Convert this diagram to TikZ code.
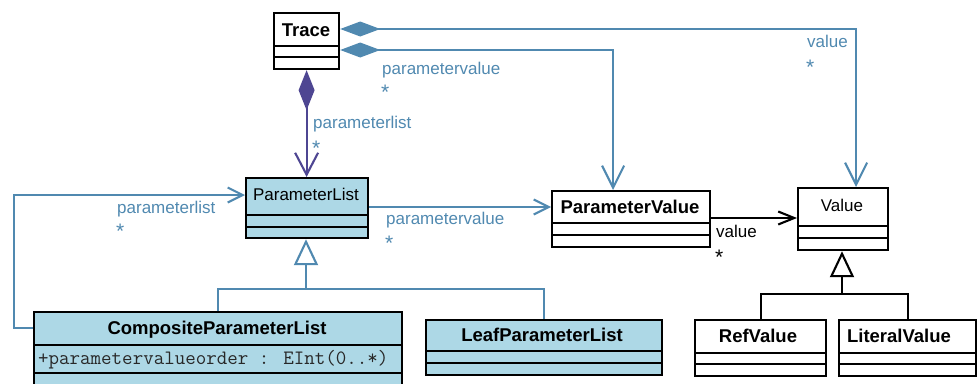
\documentclass[tikz,border=0pt]{standalone}
\usepackage{fontspec}
\setmainfont{Liberation Sans}
\usetikzlibrary{arrows.meta}
\definecolor{steel}{RGB}{80,137,176}
\definecolor{purp}{RGB}{78,70,146}
\definecolor{lblue}{RGB}{173,216,230}
\definecolor{attrgray}{RGB}{40,40,40}
\tikzset{
  cls/.style={draw=black, line width=2.2pt, inner sep=0pt, anchor=north west},
  sepline/.style={draw=black, line width=2.2pt},
  nm/.style={font=\fontsize{18.5}{20}\selectfont\bfseries, anchor=base, inner sep=0pt},
  nmr/.style={font=\fontsize{17}{20}\selectfont, anchor=base, inner sep=0pt},
  lbl/.style={font=\fontsize{17}{20}\selectfont, text=steel, anchor=base west, inner sep=0pt},
  mult/.style={lbl, font=\fontsize{21}{22}\selectfont},
  blbl/.style={lbl, text=black},
  bmult/.style={mult, text=black},
  assoc/.style={draw=steel, line width=2.1pt},
  bassoc/.style={draw=black, line width=2.1pt},
  passoc/.style={draw=purp, line width=2.1pt},
  gentip/.style={-{Triangle[open, length=26pt, width=24pt, fill=white]}},
}
\begin{document}
\begin{tikzpicture}[x=1pt, y=-1pt]
\path[use as bounding box] (0,0) rectangle (979,383);
\clip (0,0) rectangle (979,383);

% Trace
\node[cls, fill=white, minimum width=65pt, minimum height=56pt] (trace) at (273,12) {};
\draw[sepline] (273,46) -- (338,46);
\draw[sepline] (273,57) -- (338,57);
\node[nm] (traceT) at (306,36) {Trace};

% ParameterList
\node[cls, fill=lblue, minimum width=122pt, minimum height=60pt] (pl) at (245,177) {};
\draw[sepline] (245,215) -- (367,215);
\draw[sepline] (245,227) -- (367,227);
\node[nmr] (plT) at (306,200) {ParameterList};

% ParameterValue
\node[cls, fill=white, minimum width=158pt, minimum height=56pt] (pv) at (551,190) {};
\draw[sepline] (551,223) -- (709,223);
\draw[sepline] (551,235) -- (709,235);
\node[nm] (pvT) at (630,213) {ParameterValue};

% Value
\node[cls, fill=white, minimum width=90pt, minimum height=62pt] (value) at (797,187) {};
\draw[sepline] (797,226) -- (887,226);
\draw[sepline] (797,238) -- (887,238);
\node[nmr] (valueT) at (842,211) {Value};

% RefValue
\node[cls, fill=white, minimum width=131pt, minimum height=56pt] (ref) at (694,319) {};
\draw[sepline] (694,353) -- (825,353);
\draw[sepline] (694,364) -- (825,364);
\node[nm] (refT) at (758,342) {RefValue};

% LiteralValue
\node[cls, fill=white, minimum width=137pt, minimum height=56pt] (lit) at (838,319) {};
\draw[sepline] (838,353) -- (975,353);
\draw[sepline] (838,364) -- (975,364);
\node[nm] (litT) at (899,342) {LiteralValue};

% CompositeParameterList
\node[cls, fill=lblue, minimum width=368pt, minimum height=85pt] (comp) at (33,311) {};
\draw[sepline] (33,345) -- (401,345);
\draw[sepline] (33,373) -- (401,373);
\node[nm] (compT) at (217,334) {CompositeParameterList};
\node[font=\fontsize{20.4}{20}\selectfont\ttfamily, text=attrgray, anchor=base west, inner sep=0pt] (compA) at (38,364) {+parametervalueorder : EInt(0..*)};

% LeafParameterList
\node[cls, fill=lblue, minimum width=236pt, minimum height=55pt] (leaf) at (425,319) {};
\draw[sepline] (425,351) -- (661,351);
\draw[sepline] (425,363) -- (661,363);
\node[nm] (leafT) at (542,341) {LeafParameterList};

% Trace -> Value (composition)
\draw[assoc, {Diamond[length=40pt,width=15pt]}-{Straight Barb[length=22pt,width=22pt]}]
  ([yshift=-17pt]trace.north east) -| ([xshift=13pt]value.north);
\node[lbl] (lB1) at (807,47) {value};
\node[mult] (lB2) at (806,74) {*};

% Trace -> ParameterValue (composition)
\draw[assoc, {Diamond[length=40pt,width=15pt]}-{Straight Barb[length=22pt,width=22pt]}]
  ([yshift=-38pt]trace.north east) -| ([xshift=-18pt]pv.north);
\node[lbl] (lA1) at (382,74) {parametervalue};
\node[mult] (lA2) at (381,99) {*};

% Trace -> ParameterList (composition)
\draw[passoc, {Diamond[length=40pt,width=16pt]}-{Straight Barb[length=22pt,width=23pt]}]
  (trace.south) -- (trace.south |- pl.north);
\node[lbl] (lC1) at (313,128) {parameterlist};
\node[mult] (lC2) at (312,155) {*};

% ParameterList -> ParameterValue
\coordinate (a1) at ([yshift=-30pt]pl.north east);
\draw[assoc, -{Straight Barb[length=15pt,width=15pt]}] (a1) -- (a1 -| pv.west);
\node[lbl] (lE1) at (386,224) {parametervalue};
\node[mult] (lE2) at (385,250) {*};

% ParameterValue -> Value
\coordinate (a2) at ([yshift=-28pt]pv.north east);
\draw[bassoc, -{Straight Barb[length=16pt,width=13pt]}] (a2) -- (a2 -| value.west);
\node[blbl] (lF1) at (716,237) {value};
\node[bmult] (lF2) at (715,264) {*};

% CompositeParameterList -> ParameterList (self loop)
\coordinate (a3) at ([yshift=-17pt]comp.north west);
\coordinate (a4) at ([yshift=-18pt]pl.north west);
\draw[assoc, -{Straight Barb[length=15pt,width=15pt]}] (a3) -- ++(-19,0) |- (a4);
\node[lbl] (lD1) at (117,213) {parameterlist};
\node[mult] (lD2) at (116,238) {*};

% Generalization to ParameterList
\coordinate (g1) at (306,289);
\draw[assoc, gentip] (g1) -- (g1 |- pl.south);
\draw[assoc] (comp.north) |- (g1) -| (leaf.north);

% Generalization to Value
\coordinate (g2) at (842,294);
\draw[bassoc, gentip] (g2) -- (g2 |- value.south);
\draw[bassoc] (ref.north) |- (g2) -| (lit.north);
\end{tikzpicture}
\end{document}
